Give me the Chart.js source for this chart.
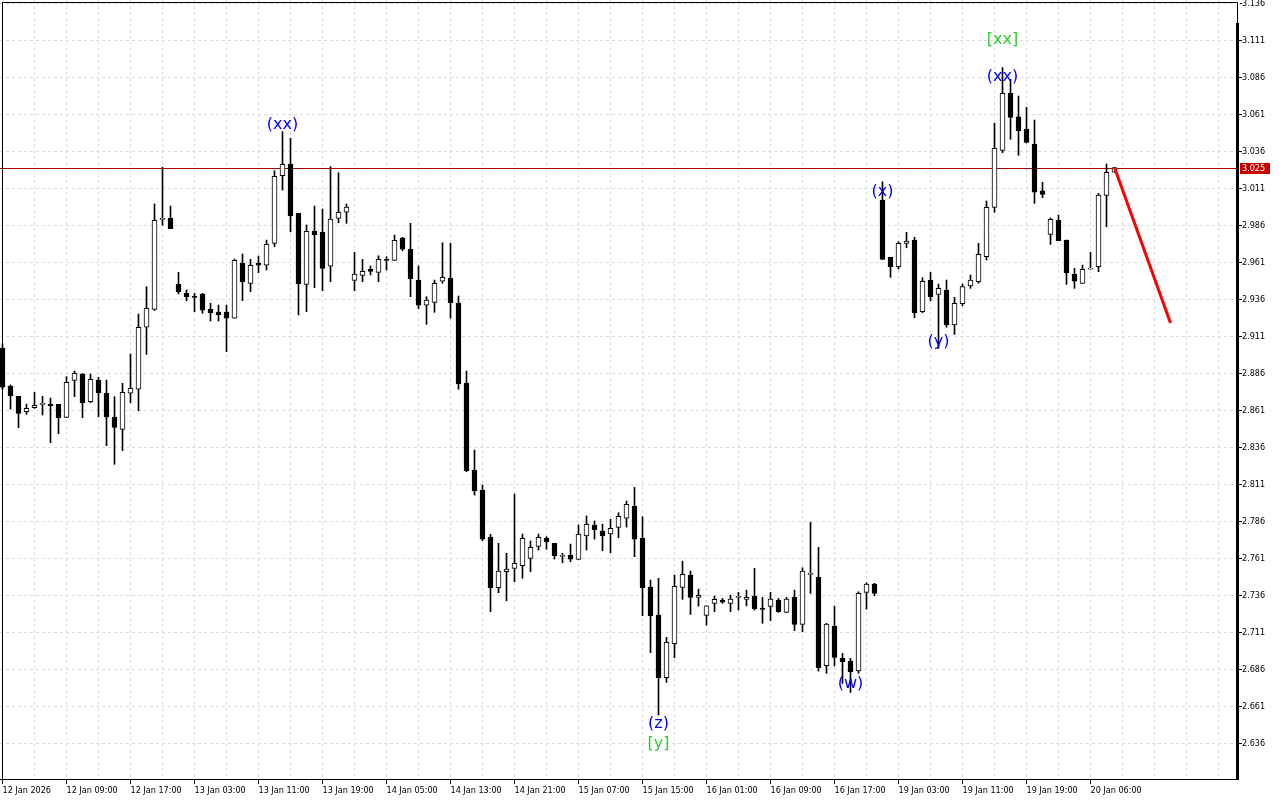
<!DOCTYPE html>
<html><head><meta charset="utf-8">
<script src="https://cdn.jsdelivr.net/npm/chart.js@4.4.1/dist/chart.umd.min.js"></script>
<style>html,body{margin:0;padding:0;background:#fff;}canvas{display:block;}</style>
</head><body>
<canvas id="c" width="1280" height="800" style="width:1280px;height:800px"></canvas>
<script>
// ---- data (hourly candles, index 0 = 12 Jan 2026 first bar) ----
const openP = [2.9031,2.8774,2.8704,2.8600,2.8627,2.8650,2.8650,2.8650,2.8562,2.8812,
2.8853,2.8668,2.8814,2.8725,2.8564,2.8481,2.8725,2.8752,2.9171,2.9292,
2.9900,2.9907,2.9461,2.9400,2.9382,2.9396,2.9292,2.9274,2.9274,2.9232,
2.9603,2.9468,2.9603,2.9590,2.9738,3.0195,3.0274,2.9941,2.9461,2.9819,
2.9812,2.9583,2.9907,2.9948,2.9488,2.9522,2.9562,2.9542,2.9630,2.9623,
2.9774,2.9698,2.9490,2.9320,2.9339,2.9482,2.9504,2.9333,2.8792,2.8206,
2.8071,2.7754,2.7411,2.7519,2.7542,2.7560,2.7610,2.7691,2.7747,2.7711,
2.7623,2.7630,2.7603,2.7762,2.7835,2.7794,2.7774,2.7819,2.7882,2.7961,
2.7745,2.7416,2.7227,2.6803,2.7033,2.7414,2.7497,2.7346,2.7225,2.7306,
2.7328,2.7306,2.7346,2.7333,2.7353,2.7274,2.7285,2.7328,2.7245,2.7346,
2.7164,2.7502,2.7481,2.6884,2.7152,2.6934,2.6916,2.6850,2.7380,2.7436,
3.0031,2.9644,2.9580,2.9738,2.9760,2.9276,2.9490,2.9393,2.9423,2.9186,
2.9330,2.9450,2.9479,2.9648,2.9981,3.0366,3.0752,3.0593,3.0510,3.0409,
3.0092,2.9799,2.9893,2.9760,2.9529,2.9468,2.9564,2.9580,3.0062,3.0218];
const highP = [2.9060,2.8781,2.8704,2.8652,2.8731,2.8704,2.8693,2.8650,2.8837,2.8875,
2.8860,2.8855,2.8833,2.8814,2.8702,2.8792,2.8990,2.9260,2.9445,3.0004,
3.0252,2.9990,2.9542,2.9423,2.9400,2.9400,2.9333,2.9321,2.9321,2.9632,
2.9666,2.9630,2.9652,2.9760,3.0229,3.0492,3.0448,2.9941,2.9862,2.9990,
2.9970,3.0256,3.0215,3.0004,2.9677,2.9630,2.9585,2.9654,2.9648,2.9794,
2.9779,2.9873,2.9585,2.9377,2.9490,2.9742,2.9738,2.9382,2.8875,2.8341,
2.8105,2.7772,2.7711,2.7644,2.8044,2.7774,2.7727,2.7774,2.7756,2.7711,
2.7644,2.7706,2.7835,2.7896,2.7862,2.7841,2.7873,2.7918,2.7997,2.8089,
2.7891,2.7463,2.7475,2.7076,2.7497,2.7591,2.7524,2.7402,2.7289,2.7355,
2.7339,2.7362,2.7380,2.7395,2.7542,2.7346,2.7380,2.7339,2.7346,2.7395,
2.7546,2.7853,2.7684,2.7171,2.7287,2.6968,2.6934,2.7384,2.7445,2.7441,
3.0154,2.9644,2.9749,2.9812,2.9779,2.9506,2.9542,2.9463,2.9490,2.9373,
2.9463,2.9524,2.9738,3.0024,3.0549,3.0925,3.0846,3.0733,3.0657,3.0571,
3.0150,2.9909,2.9929,2.9760,2.9569,2.9591,2.9677,3.0076,3.0274,3.0252];
const lowP = [2.8750,2.8618,2.8492,2.8583,2.8623,2.8578,2.8391,2.8452,2.8562,2.8702,
2.8560,2.8661,2.8566,2.8371,2.8245,2.8337,2.8661,2.8607,2.8988,2.9285,
2.9860,2.9837,2.9396,2.9350,2.9276,2.9265,2.9213,2.9213,2.9006,2.9232,
2.9350,2.9411,2.9540,2.9558,2.9715,3.0098,2.9816,2.9254,2.9276,2.9438,
2.9418,2.9479,2.9877,2.9873,2.9418,2.9479,2.9524,2.9479,2.9558,2.9623,
2.9688,2.9377,2.9296,2.9191,2.9272,2.9468,2.9232,2.8752,2.8195,2.8037,
2.7729,2.7249,2.7377,2.7323,2.7452,2.7475,2.7519,2.7666,2.7671,2.7605,
2.7580,2.7587,2.7603,2.7666,2.7740,2.7661,2.7648,2.7749,2.7821,2.7621,
2.7222,2.6972,2.6551,2.6772,2.6938,2.7333,2.7231,2.7287,2.7159,2.7249,
2.7306,2.7249,2.7260,2.7289,2.7260,2.7171,2.7188,2.7245,2.7245,2.7121,
2.7114,2.7373,2.6848,2.6833,2.6884,2.6765,2.6704,2.6833,2.7267,2.7357,
2.9630,2.9508,2.9564,2.9708,2.9235,2.9269,2.9350,2.9029,2.9171,2.9123,
2.9316,2.9434,2.9468,2.9625,2.9948,3.0350,3.0441,3.0333,3.0416,3.0008,
3.0046,2.9731,2.9756,2.9461,2.9434,2.9468,2.9564,2.9546,2.9850,3.0218];
const closeP = [2.8767,2.8708,2.8589,2.8623,2.8643,2.8650,2.8640,2.8560,2.8799,2.8860,
2.8661,2.8819,2.8729,2.8566,2.8495,2.8731,2.8758,2.9171,2.9299,2.9894,
2.9900,2.9837,2.9411,2.9377,2.9373,2.9287,2.9269,2.9256,2.9232,2.9623,
2.9479,2.9590,2.9590,2.9731,3.0191,3.0272,2.9923,2.9465,2.9819,2.9796,
2.9569,2.9902,2.9948,2.9983,2.9531,2.9549,2.9549,2.9630,2.9623,2.9758,
2.9698,2.9499,2.9320,2.9355,2.9468,2.9509,2.9337,2.8789,2.8202,2.8066,
2.7740,2.7411,2.7524,2.7537,2.7576,2.7745,2.7684,2.7752,2.7722,2.7627,
2.7623,2.7605,2.7774,2.7839,2.7803,2.7762,2.7812,2.7894,2.7975,2.7740,
2.7411,2.7222,2.6803,2.7042,2.7420,2.7502,2.7346,2.7360,2.7289,2.7333,
2.7313,2.7335,2.7346,2.7346,2.7269,2.7265,2.7335,2.7249,2.7335,2.7164,
2.7524,2.7502,2.6871,2.7166,2.6941,2.6911,2.6844,2.7373,2.7436,2.7373,
2.9630,2.9580,2.9738,2.9754,2.9269,2.9481,2.9377,2.9434,2.9186,2.9333,
2.9445,2.9490,2.9664,2.9981,3.0380,3.0752,3.0589,3.0499,3.0420,3.0083,
3.0069,2.9900,2.9756,2.9540,2.9482,2.9562,2.9567,3.0064,3.0218,3.0250];

const timeLabels = ['12 Jan 2026','12 Jan 09:00','12 Jan 17:00','13 Jan 03:00','13 Jan 11:00','13 Jan 19:00',
'14 Jan 05:00','14 Jan 13:00','14 Jan 21:00','15 Jan 07:00','15 Jan 15:00','16 Jan 01:00',
'16 Jan 09:00','16 Jan 17:00','19 Jan 03:00','19 Jan 11:00','19 Jan 19:00','20 Jan 06:00'];
const barsPerLabel = 8;
const barsPerGrid = 4;
const yTicks = [2.636,2.661,2.686,2.711,2.736,2.761,2.786,2.811,2.836,2.861,2.886,2.911,2.936,2.961,2.986,3.011,3.036,3.061,3.086,3.111,3.136];
const bidPrice = 3.025;
const forecastIdx = [139, 146];
const forecastPrice = [3.025, 2.920];
const waveText  = ['(xx)','(z)','[y]','(w)','(x)','(y)','(xx)','[xx]'];
const waveIdx   = [35, 82, 82, 106, 110, 117, 125, 125];
const wavePrice = [3.0541, 2.6495, 2.6355, 2.6759, 3.0087, 2.9073, 3.0864, 3.1115];

// ---- view ----
const X_MIN = -0.3125, X_MAX = 154.3125;
const Y_MIN = 2.6119, Y_MAX = 3.1382;
const AXIS_FONT = '"DejaVu Sans Condensed", "DejaVu Sans", sans-serif';
const LABEL_FONT = '"DejaVu Sans", sans-serif';

Chart.defaults.font.family = AXIS_FONT;
Chart.defaults.font.size = 9;
Chart.defaults.color = '#000';

const wickData = openP.map((_, i) => ({x: i, y: [lowP[i], highP[i]]}));
const bodyData = openP.map((o, i) => ({x: i, y: [o, closeP[i]]}));
const fcData = forecastIdx.map((v, k) => ({x: v, y: forecastPrice[k]}));

const overlay = {
  id: 'overlay',
  beforeDatasetsDraw(chart) {
    const {ctx, chartArea: a, scales: {y}} = chart;
    const py = Math.round(y.getPixelForValue(bidPrice)) + 0.5;
    ctx.save();
    ctx.strokeStyle = '#b00000'; ctx.lineWidth = 1;
    ctx.beginPath(); ctx.moveTo(a.left, py); ctx.lineTo(a.right, py); ctx.stroke();
    ctx.restore();
  },
  afterDatasetsDraw(chart) {
    const {ctx, scales: {x, y}} = chart;
    ctx.save();
    ctx.font = '16px ' + LABEL_FONT;
    ctx.textAlign = 'center'; ctx.textBaseline = 'middle';
    waveText.forEach((t, k) => {
      ctx.fillStyle = t[0] === '[' ? '#32cd32' : '#0000ff';
      ctx.fillText(t, x.getPixelForValue(waveIdx[k]), y.getPixelForValue(wavePrice[k]));
    });
    ctx.restore();
  },
  afterDraw(chart) {
    const {ctx, chartArea: a, scales: {y}} = chart;
    ctx.save();
    // frame: thin top/left lines, thin top segment of right border
    ctx.fillStyle = '#fff';
    ctx.fillRect(a.right - 2, 0, 5, 23);
    ctx.strokeStyle = '#000'; ctx.lineWidth = 1;
    ctx.beginPath();
    ctx.moveTo(a.left + 2.5, a.bottom); ctx.lineTo(a.left + 2.5, 2.5); ctx.lineTo(a.right + 0.5, 2.5); ctx.lineTo(a.right + 0.5, 23);
    ctx.stroke();
    // price tag
    const py = Math.round(y.getPixelForValue(bidPrice));
    ctx.fillStyle = '#c80000';
    ctx.fillRect(y.left + 3, py - 5, 30, 11);
    ctx.fillStyle = '#fff';
    ctx.font = '9px ' + AXIS_FONT;
    ctx.textAlign = 'left'; ctx.textBaseline = 'middle';
    ctx.fillText(bidPrice.toFixed(3), y.left + 5, py + 0.5);
    ctx.restore();
  }
};

new Chart(document.getElementById('c'), {
  type: 'bar',
  data: {
    datasets: [
      { type: 'line', data: fcData, borderColor: '#ff0000', borderWidth: 3, pointRadius: 0, order: 0 },
      { data: bodyData, barThickness: 5, grouped: false, order: 1, borderWidth: 1, borderColor: '#000',
        borderSkipped: false, minBarLength: 1,
        backgroundColor: c => (closeP[c.dataIndex] >= openP[c.dataIndex] ? '#ffffff' : '#000000') },
      { data: wickData, barThickness: 1, grouped: false, order: 2, borderWidth: 0, backgroundColor: '#000' }
    ]
  },
  options: {
    responsive: false, animation: false, devicePixelRatio: 1,
    layout: { padding: 0 },
    plugins: { legend: { display: false }, tooltip: { enabled: false } },
    scales: {
      x: {
        type: 'linear', min: X_MIN, max: X_MAX, offset: false,
        afterBuildTicks: s => { const t = []; for (let v = 0; v <= X_MAX; v += barsPerGrid) t.push({value: v}); s.ticks = t; },
        afterFit: s => { s.height = 21; s.paddingLeft = 0; s.paddingRight = 0; },
        ticks: { autoSkip: false, maxRotation: 0, minRotation: 0, align: 'start', padding: 1,
          callback: v => (v % barsPerLabel === 0 && timeLabels[v / barsPerLabel]) ? timeLabels[v / barsPerLabel] : '' },
        grid: { color: '#dcdcdc', lineWidth: 1, tickLength: 5, offset: false,
          tickColor: c => (c.tick && c.tick.value % barsPerLabel === 0 && timeLabels[c.tick.value / barsPerLabel]) ? '#000' : 'rgba(0,0,0,0)' },
        border: { display: true, color: '#000', width: 1, dash: [3, 3] }
      },
      y: {
        type: 'linear', position: 'right', min: Y_MIN, max: Y_MAX,
        afterBuildTicks: s => { s.ticks = yTicks.map(v => ({value: v})); },
        afterFit: s => { s.width = 43; s.paddingTop = 0; s.paddingBottom = 0; },
        ticks: { padding: 0, callback: v => Number(v).toFixed(3) },
        grid: { color: '#dcdcdc', lineWidth: 1, tickLength: 5, tickColor: '#000' },
        border: { display: true, color: '#000', width: 3, dash: [3, 3] }
      }
    }
  },
  plugins: [overlay]
});
</script>
</body></html>
